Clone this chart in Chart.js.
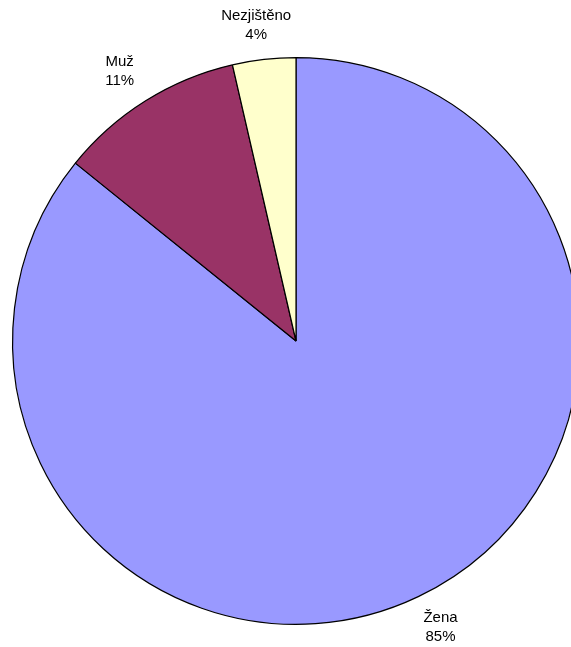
<!DOCTYPE html>
<html>
<head>
<meta charset="utf-8">
<script src="https://cdn.jsdelivr.net/npm/chart.js@4"></script>
<style>
  html, body { margin: 0; padding: 0; background: #fff; overflow: hidden; }
  #wrap { width: 571px; height: 647px; overflow: hidden; position: relative; }
  canvas { position: absolute; left: 0; top: 0; }
</style>
</head>
<body>
<div id="wrap"><canvas id="pie" width="600" height="647"></canvas></div>
<script>
// Data
const categories = ['Žena', 'Muž', 'Nezjištěno'];
const shares = [85.8, 10.6, 3.6];
const shareLabels = ['85%', '11%', '4%'];
const colors = ['#9999FF', '#993366', '#FFFFCC'];

// Draw category + percent outside each slice
const outsideLabels = {
    id: 'outsideLabels',
    afterDatasetsDraw(chart) {
        const ctx = chart.ctx;
        const arcs = chart.getDatasetMeta(0).data;
        ctx.save();
        ctx.font = '15px "Liberation Sans", Arial, sans-serif';
        ctx.fillStyle = '#000';
        ctx.textAlign = 'center';
        ctx.textBaseline = 'middle';
        arcs.forEach((arc, i) => {
            const p = arc.getProps(['x', 'y', 'startAngle', 'endAngle', 'outerRadius'], true);
            const mid = (p.startAngle + p.endAngle) / 2;
            const dist = p.outerRadius + 34.5;
            const halfW = Math.max(ctx.measureText(categories[i]).width, ctx.measureText(shareLabels[i]).width) / 2;
            const cx = p.x + Math.cos(mid) * (dist + halfW);
            const cy = p.y + Math.sin(mid) * dist;
            ctx.fillText(categories[i], cx, cy - 9.5);
            ctx.fillText(shareLabels[i], cx, cy + 9.5);
        });
        ctx.restore();
    }
};

const chart = new Chart(document.getElementById('pie').getContext('2d'), {
    type: 'pie',
    data: {
        labels: categories,
        datasets: [{
            data: shares,
            backgroundColor: colors,
            borderColor: '#000',
            borderWidth: 1.2
        }]
    },
    options: {
        responsive: false,
        animation: false,
        layout: {
            padding: { left: 12, top: 57, right: 20, bottom: 22 }
        },
        plugins: {
            legend: { display: false },
            tooltip: { enabled: false }
        }
    },
    plugins: [outsideLabels]
});
</script>
</body>
</html>
